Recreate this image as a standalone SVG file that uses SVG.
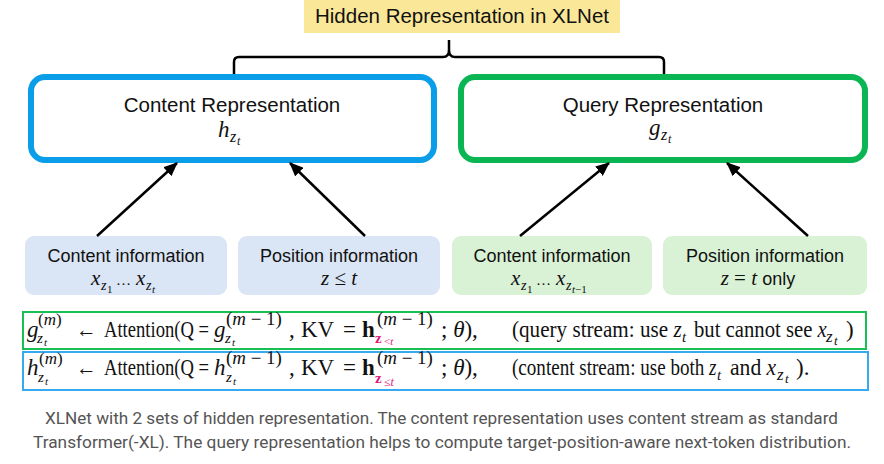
<svg xmlns="http://www.w3.org/2000/svg" width="884" height="464" viewBox="0 0 884 464">
<defs>
<style>
.sans{font-family:"Liberation Sans",Arial,sans-serif;fill:#111}
.ser{font-family:"Liberation Serif","DejaVu Serif",serif;fill:#111}
.it{font-style:italic}
.bx{font-weight:bold}
.mg{fill:#e0197d}
.cap{font-family:Roboto,"Liberation Sans",sans-serif;fill:#555;font-size:17px}
.arr{stroke:#000;stroke-width:2.5;fill:none;marker-end:url(#ah)}
</style>
<marker id="ah" markerUnits="userSpaceOnUse" markerWidth="14" markerHeight="12" refX="13" refY="6" orient="auto">
<path d="M0,0 L14,6 L0,12 z" fill="#000"/>
</marker>
</defs>
<rect width="884" height="464" fill="#fff"/>

<g id="title">
<rect x="304" y="0" width="316" height="33" fill="#fae797"/>
<text class="sans" x="462" y="23" font-size="20.5" text-anchor="middle">Hidden Representation in XLNet</text>
</g>

<g id="brace">
<path d="M234,78 V62 Q234,57 239,57 H443 Q449,57 449,50 V40 M449,50 Q449,57 455,57 H659 Q664,57 664,62 V78" fill="none" stroke="#000" stroke-width="2.5"/>
</g>

<g id="content-rep">
<rect x="31" y="77" width="403" height="83" rx="14" fill="#fff" stroke="#0a9de8" stroke-width="6"/>
<text class="sans" x="232" y="112" font-size="20.5" text-anchor="middle">Content Representation</text>
<text class="ser it" x="218" y="137" font-size="23">h</text>
<text class="ser it" x="230" y="142" font-size="16">z</text>
<text class="ser it" x="237" y="145" font-size="12">t</text>
</g>

<g id="query-rep">
<rect x="461" y="77" width="404" height="83" rx="14" fill="#fff" stroke="#0ab653" stroke-width="6"/>
<text class="sans" x="663" y="112" font-size="20.5" text-anchor="middle">Query Representation</text>
<text class="ser it" x="649" y="135" font-size="23">g</text>
<text class="ser it" x="661" y="140" font-size="16">z</text>
<text class="ser it" x="668" y="143" font-size="12">t</text>
</g>

<g id="content-info-1">
<rect x="25" y="236" width="202" height="59" rx="9" fill="#dae5f5"/>
<text class="sans" x="126" y="262" font-size="18" text-anchor="middle">Content information</text>
<text class="ser it" x="91" y="285" font-size="21">x</text>
<text class="ser it" x="101" y="290" font-size="14">z</text>
<text class="ser" x="107" y="293" font-size="11">1</text>
<text class="ser" x="116" y="285" font-size="15">…</text>
<text class="ser it" x="136" y="285" font-size="21">x</text>
<text class="ser it" x="146" y="290" font-size="14">z</text>
<text class="ser it" x="152" y="293" font-size="11">t</text>
</g>

<g id="position-info-1">
<rect x="238" y="236" width="202" height="59" rx="9" fill="#dae5f5"/>
<text class="sans" x="339" y="262" font-size="18" text-anchor="middle">Position information</text>
<text class="ser" x="339" y="285" font-size="21" text-anchor="middle"><tspan class="it">z</tspan> ≤ <tspan class="it">t</tspan></text>
</g>

<g id="content-info-2">
<rect x="452" y="236" width="200" height="59" rx="9" fill="#d9f2d5"/>
<text class="sans" x="552" y="262" font-size="18" text-anchor="middle">Content information</text>
<text class="ser it" x="511" y="285" font-size="21">x</text>
<text class="ser it" x="521" y="290" font-size="14">z</text>
<text class="ser" x="527" y="293" font-size="11">1</text>
<text class="ser" x="536" y="285" font-size="15">…</text>
<text class="ser it" x="556" y="285" font-size="21">x</text>
<text class="ser it" x="566" y="290" font-size="14">z</text>
<text class="ser" x="572" y="293" font-size="11"><tspan class="it">t</tspan>−1</text>
</g>

<g id="position-info-2">
<rect x="663" y="236" width="204" height="59" rx="9" fill="#d9f2d5"/>
<text class="sans" x="765" y="262" font-size="18" text-anchor="middle">Position information</text>
<text class="ser" x="758" y="285" font-size="21" text-anchor="middle"><tspan class="it">z</tspan> = <tspan class="it">t</tspan> <tspan class="sans" font-size="18" font-style="normal">only</tspan></text>
</g>

<g id="connectors">
<line class="arr" x1="97" y1="236" x2="177" y2="163"/>
<line class="arr" x1="365" y1="236" x2="290" y2="163"/>
<line class="arr" x1="520" y1="236" x2="609" y2="163"/>
<line class="arr" x1="808" y1="236" x2="727" y2="163"/>
</g>

<g id="eq-query">
<rect x="23" y="312" width="843" height="37" fill="#fff" stroke="#19be55" stroke-width="2"/>
<g class="ser" font-size="23">
<text class="it" x="27" y="337">g</text>
<text x="38" y="325" font-size="17">(<tspan class="it">m</tspan>)</text>
<text class="it" x="37" y="343" font-size="15">z</text>
<text class="it" x="44" y="346" font-size="11">t</text>
<text transform="translate(76,337) scale(0.9,1)">←</text>
<text transform="translate(104,337) scale(0.81,1)">Attention(Q =</text>
<text class="it" x="214" y="337">g</text>
<text transform="translate(226,325) scale(1.05,1)" font-size="18">(<tspan class="it">m</tspan> − 1)</text>
<text class="it" x="225" y="343" font-size="15">z</text>
<text class="it" x="232" y="346" font-size="11">t</text>
<text x="289" y="337">,</text>
<text x="301" y="337">KV</text>
<text x="343" y="337">=</text>
<text class="bx" x="362" y="337">h</text>
<text transform="translate(377,325) scale(1.05,1)" font-size="18">(<tspan class="it">m</tspan> − 1)</text>
<text class="bx mg" x="375" y="343" font-size="15">z</text>
<text class="mg" x="384" y="345" font-size="11">&lt;<tspan class="it">t</tspan></text>
<text x="441" y="337">; <tspan class="it">θ</tspan>),</text>
<text transform="translate(512,337) scale(0.92,1)">(query stream: use <tspan class="it">z</tspan></text>
<text class="it" x="682" y="342" font-size="15">t</text>
<text transform="translate(694,337) scale(0.9,1)">but cannot see <tspan class="it">x</tspan></text>
<text class="it" x="826" y="342" font-size="17">z</text>
<text class="it" x="834" y="345" font-size="13">t</text>
<text x="846" y="337">)</text>
</g>
</g>

<g id="eq-content">
<rect x="23" y="352" width="845" height="38" fill="#fff" stroke="#36aaf0" stroke-width="2"/>
<g class="ser" font-size="23">
<text class="it" x="27" y="375">h</text>
<text x="39" y="364" font-size="17">(<tspan class="it">m</tspan>)</text>
<text class="it" x="38" y="382" font-size="15">z</text>
<text class="it" x="45" y="385" font-size="11">t</text>
<text transform="translate(76,375) scale(0.9,1)">←</text>
<text transform="translate(104,375) scale(0.81,1)">Attention(Q =</text>
<text class="it" x="214" y="375">h</text>
<text transform="translate(226,364) scale(1.05,1)" font-size="18">(<tspan class="it">m</tspan> − 1)</text>
<text class="it" x="226" y="382" font-size="15">z</text>
<text class="it" x="233" y="385" font-size="11">t</text>
<text x="289" y="375">,</text>
<text x="301" y="375">KV</text>
<text x="343" y="375">=</text>
<text class="bx" x="362" y="375">h</text>
<text transform="translate(377,364) scale(1.05,1)" font-size="18">(<tspan class="it">m</tspan> − 1)</text>
<text class="bx mg" x="375" y="383" font-size="15">z</text>
<text class="mg" x="384" y="386" font-size="12">≤<tspan class="it">t</tspan></text>
<text x="441" y="375">; <tspan class="it">θ</tspan>),</text>
<text transform="translate(512,375) scale(0.83,1)">(content stream: use both <tspan class="it">z</tspan></text>
<text class="it" x="717" y="380" font-size="15">t</text>
<text transform="translate(730,375) scale(0.94,1)">and <tspan class="it">x</tspan></text>
<text class="it" x="777" y="380" font-size="17">z</text>
<text class="it" x="785" y="383" font-size="13">t</text>
<text x="796" y="375">).</text>
</g>
</g>

<g id="caption">
<text class="cap" x="45" y="424" textLength="793" lengthAdjust="spacingAndGlyphs">XLNet with 2 sets of hidden representation. The content representation uses content stream as standard</text>
<text class="cap" x="33" y="448" textLength="818" lengthAdjust="spacingAndGlyphs">Transformer(-XL). The query representation helps to compute target-position-aware next-token distribution.</text>
</g>
</svg>
